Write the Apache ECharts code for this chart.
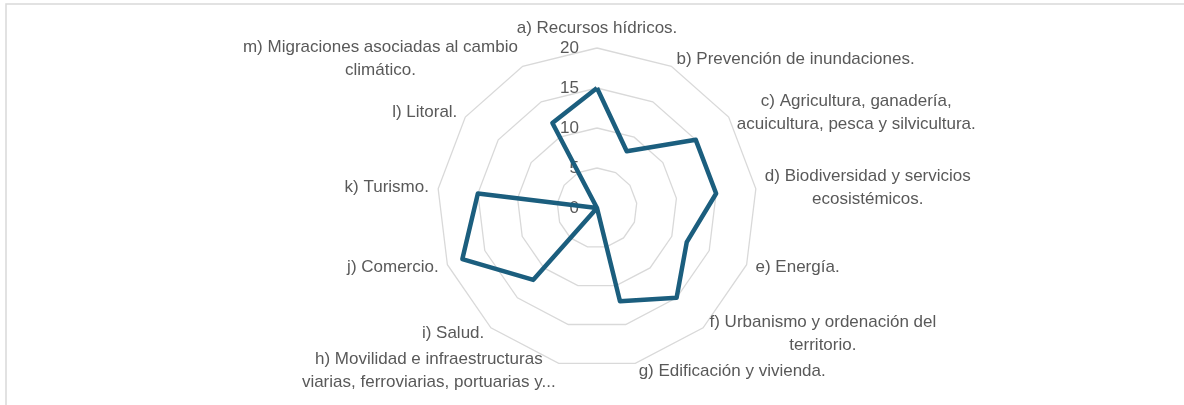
<!DOCTYPE html>
<html>
<head>
<meta charset="utf-8">
<script src="https://cdn.jsdelivr.net/npm/echarts@6/dist/echarts.min.js"></script>
<style>
  html, body { margin: 0; padding: 0; background: #fff; }
  #main { width: 1184px; height: 405px; }
</style>
</head>
<body>
<div id="main"></div>
<script>
// ejes del radar (una línea por renglón de la etiqueta), en sentido horario desde arriba
var ejes = [
    ['a) Recursos hídricos.'],
    ['b) Prevención de inundaciones.'],
    ['c) Agricultura, ganadería,', 'acuicultura, pesca y silvicultura.'],
    ['d) Biodiversidad y servicios', 'ecosistémicos.'],
    ['e) Energía.'],
    ['f) Urbanismo y ordenación del', 'territorio.'],
    ['g) Edificación y vivienda.'],
    ['h) Movilidad e infraestructuras', 'viarias, ferroviarias, portuarias y...'],
    ['i) Salud.'],
    ['j) Comercio.'],
    ['k) Turismo.'],
    ['l) Litoral.'],
    ['m) Migraciones asociadas al cambio', 'climático.']
];
var valores = [15, 8, 15, 15, 12, 15, 12, 0, 12, 18, 15, 0, 12];
var maximo = 20;
var paso = 5;

// el radar de echarts va en sentido antihorario: se invierte el orden salvo el primero
function horario(arr) {
    return [arr[0]].concat(arr.slice(1).reverse());
}
var ejesR = horario(ejes);
var valoresR = horario(valores);

var fuente = '17px "Liberation Sans", Arial, sans-serif';
var ctx = document.createElement('canvas').getContext('2d');
ctx.font = fuente;

var rich = {};
var indicadores = ejesR.map(function(lineas, i) {
    var ancho = 0;
    lineas.forEach(function(l) { ancho = Math.max(ancho, ctx.measureText(l).width); });
    rich['n' + i] = { width: Math.ceil(ancho) + 2, align: 'center', fontSize: 17, color: '#595959', lineHeight: 23 };
    return { name: lineas.join('\n'), min: 0, max: maximo };
});

var centro = [597, 208];
var radio = 160;

var option = {
    backgroundColor: '#fff',
    textStyle: { fontFamily: '"Liberation Sans", Arial, sans-serif' },
    graphic: [{
        type: 'rect',
        shape: { x: 6, y: 4, width: 1300, height: 500 },
        style: { fill: 'none', stroke: '#d9d9d9', lineWidth: 1.5 },
        silent: true
    }],
    radar: {
        center: centro,
        radius: radio,
        startAngle: 90,
        shape: 'polygon',
        splitNumber: maximo / paso,
        indicator: indicadores,
        nameGap: 8,
        axisName: {
            color: '#595959',
            fontSize: 17,
            lineHeight: 23,
            formatter: function(name) {
                var idx = 0;
                for (var i = 0; i < indicadores.length; i++) {
                    if (indicadores[i].name === name) { idx = i; break; }
                }
                return name.split('\n').map(function(l) { return '{n' + idx + '|' + l + '}'; }).join('\n');
            },
            rich: rich
        },
        axisLine: { show: false },
        axisTick: { show: false },
        splitArea: { show: false },
        splitLine: { lineStyle: { color: '#d9d9d9', width: 1.3 } }
    },
    polar: { center: centro, radius: radio },
    angleAxis: { show: false, startAngle: 90, min: 0, max: 360 },
    radiusAxis: {
        min: 0,
        max: maximo,
        interval: paso,
        axisLine: { show: false },
        axisTick: { show: false },
        splitLine: { show: false },
        axisLabel: { color: '#595959', fontSize: 17, margin: 18 }
    },
    series: [{
        type: 'radar',
        symbol: 'none',
        lineStyle: { color: '#1b5e7e', width: 4.5 },
        data: [{ value: valoresR, name: 'Serie1' }]
    }]
};

var myChart = echarts.init(document.getElementById('main'));
myChart.setOption(option);
</script>
</body>
</html>
